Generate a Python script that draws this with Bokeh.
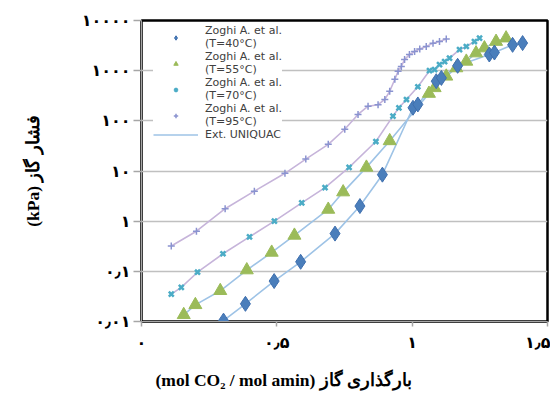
from bokeh.plotting import figure
from bokeh.models import FixedTicker, Legend, LegendItem, Title
from bokeh.embed import file_html
from bokeh.resources import INLINE

# ---- data ----
x_ticks = [0, 0.5, 1, 1.5]
x_tick_labels = ["۰", "۰٫۵", "۱", "۱٫۵"]
y_ticks = [0.01, 0.1, 1, 10, 100, 1000, 10000]
y_tick_labels = ["۰٫۰۱", "۰٫۱", "۱", "۱۰", "۱۰۰", "۱۰۰۰", "۱۰۰۰۰"]

x_title = "(mol CO₂ / mol amin) بارگذاری گاز"
y_title = "(kPa) فشار گاز"

series_labels = ["Zoghi A. et al.\n(T=40°C)", "Zoghi A. et al.\n(T=55°C)",
                 "Zoghi A. et al.\n(T=70°C)", "Zoghi A. et al.\n(T=95°C)"]
model_label = "Ext. UNIQUAC"

t40_x = [0.303, 0.384, 0.490, 0.588, 0.715, 0.807, 0.890, 1.003, 1.021, 1.089, 1.108, 1.168, 1.285, 1.304, 1.371, 1.408]
t40_p = [0.0104, 0.0225, 0.064, 0.155, 0.565, 2.0, 8.45, 182, 212, 617, 716, 1250, 2100, 2300, 3270, 3550]

t55_x = [0.156, 0.199, 0.291, 0.389, 0.481, 0.565, 0.690, 0.745, 0.831, 0.917, 1.062, 1.083, 1.126, 1.163, 1.200, 1.236, 1.267, 1.310, 1.347]
t55_p = [0.0136, 0.0215, 0.041, 0.106, 0.238, 0.52, 1.71, 3.8, 11.8, 39.8, 350, 454, 771, 1130, 1530, 2240, 2820, 3800, 4450]

t70_x = [0.110, 0.147, 0.207, 0.301, 0.399, 0.491, 0.592, 0.678, 0.767, 0.866, 0.929, 0.951, 0.979, 1.021, 1.064, 1.083, 1.101, 1.120, 1.138, 1.175, 1.200, 1.230, 1.249]
t70_p = [0.035, 0.048, 0.096, 0.224, 0.486, 1.0, 2.32, 4.67, 11.8, 38.7, 124, 182, 266, 478, 1000, 1050, 1320, 1520, 1780, 2620, 3030, 3810, 4450]

t95_x = [0.110, 0.203, 0.309, 0.417, 0.530, 0.607, 0.690, 0.751, 0.800, 0.837, 0.874, 0.899, 0.917, 0.936, 0.948, 0.960, 0.972, 0.990, 1.009, 1.028, 1.052, 1.077, 1.101, 1.126]
t95_p = [0.32, 0.63, 1.77, 3.96, 9.0, 17.3, 34, 68, 134, 196, 210, 267, 388, 676, 975, 1217, 1670, 2090, 2410, 2690, 3020, 3540, 3800, 4300]

# ---- figure ----
p = figure(width=550, height=402, x_range=(0, 1.5), y_range=(0.01, 10000),
           y_axis_type="log", output_backend="svg", toolbar_location=None,
           min_border_left=141, min_border_right=3, min_border_top=20,
           min_border_bottom=80)
p.background_fill_color = "white"
p.border_fill_color = "white"
p.outline_line_color = "black"
p.outline_line_width = 2.5

p.xgrid.visible = False
p.ygrid.grid_line_color = "#c0c0c0"
p.ygrid.grid_line_width = 1.5

p.xaxis.ticker = FixedTicker(ticks=x_ticks)
p.xaxis.major_label_overrides = {t: l for t, l in zip(x_ticks, x_tick_labels)}
p.yaxis.ticker = FixedTicker(ticks=y_ticks)
p.yaxis.major_label_overrides = {t: l for t, l in zip(y_ticks, y_tick_labels)}

for ax in (p.xaxis, p.yaxis):
    ax.axis_line_color = "#a6a6a6"
    ax.major_tick_line_color = "#a6a6a6"
    ax.major_tick_line_width = 1.5
    ax.major_tick_in = 0
    ax.minor_tick_line_color = None
    ax.major_label_text_font = "DejaVu Sans"
    ax.major_label_text_font_style = "bold"
    ax.major_label_text_font_size = "16px"
    ax.major_label_text_color = "black"

p.yaxis.major_tick_out = 8
p.yaxis.major_label_standoff = 3
p.xaxis.major_tick_out = 5
p.xaxis.major_label_standoff = 6

p.yaxis.axis_label = y_title
p.yaxis.axis_label_text_font = "Liberation Serif"
p.yaxis.axis_label_text_font_style = "bold"
p.yaxis.axis_label_text_font_size = "17.5px"
p.yaxis.axis_label_text_color = "black"
p.yaxis.axis_label_standoff = 36

p.add_layout(Title(text=x_title, align="left", offset=14, standoff=26,
                   text_font="Liberation Serif", text_font_style="bold",
                   text_font_size="17.5px", text_color="black"), "below")

blue_line = "#9ec3e6"
lav_line = "#c6b4da"

l95 = p.line(t95_x, t95_p, line_color=lav_line, line_width=1.6)
l70 = p.line(t70_x, t70_p, line_color=lav_line, line_width=1.6)
l55 = p.line(t55_x, t55_p, line_color=blue_line, line_width=1.6)
l40 = p.line(t40_x, t40_p, line_color=blue_line, line_width=1.6)

r95 = p.scatter(t95_x, t95_p, marker="cross", size=7, line_color="#8a93d0", line_width=1.5)
r70 = p.scatter(t70_x, t70_p, marker="x", size=7, line_color="#4bacc6", line_width=2.5)
r55 = p.scatter(t55_x, t55_p, marker="triangle", size=13, fill_color="#9bbb59", line_color="#9bbb59")
r40 = p.scatter(t40_x, t40_p, marker="diamond", size=15, fill_color="#4a7ebb", line_color="#3f6fae")

legend = Legend(items=[
    LegendItem(label=series_labels[0], renderers=[r40]),
    LegendItem(label=series_labels[1], renderers=[r55]),
    LegendItem(label=series_labels[2], renderers=[r70]),
    LegendItem(label=series_labels[3], renderers=[r95]),
    LegendItem(label=model_label, renderers=[l40]),
], location=(12, 180), padding=2, margin=0, spacing=0,
    glyph_width=45, glyph_height=11, label_height=11, label_standoff=7,
    label_text_font="DejaVu Sans", label_text_font_size="11px",
    label_text_color="#404040",
    border_line_color=None, background_fill_color="white", background_fill_alpha=1.0)
p.add_layout(legend)

open("out.html", "w").write(file_html(p, INLINE))
